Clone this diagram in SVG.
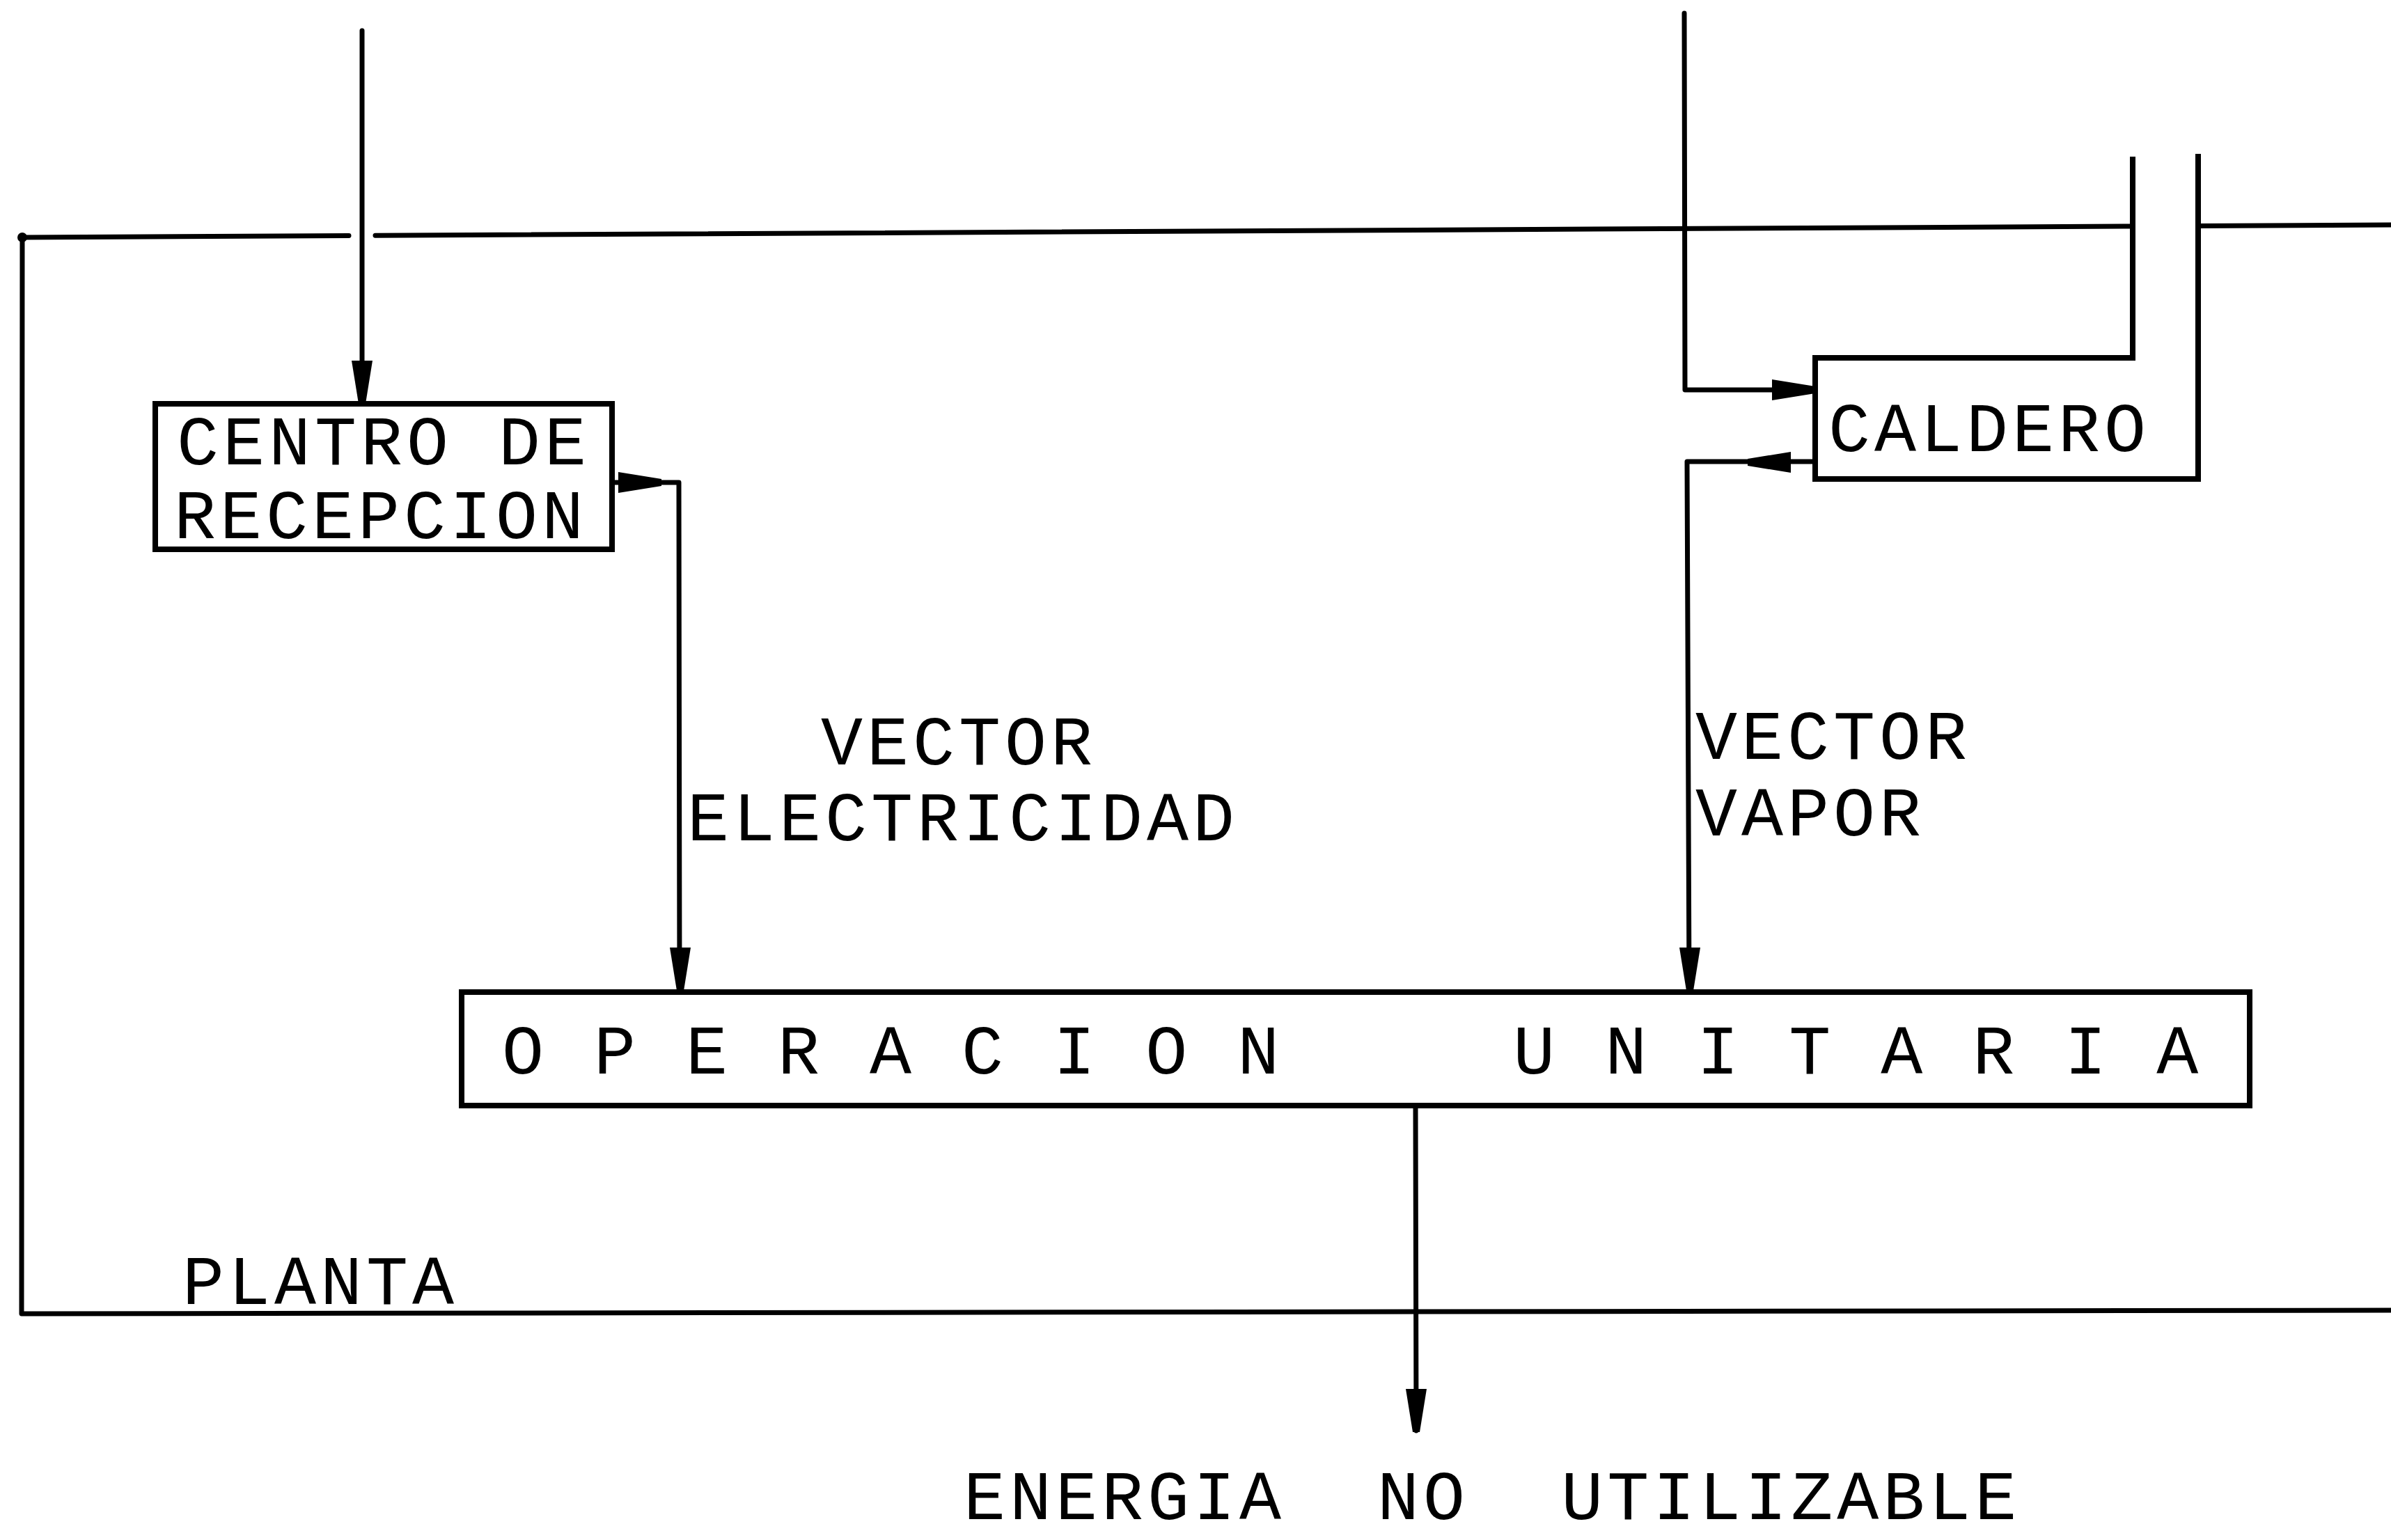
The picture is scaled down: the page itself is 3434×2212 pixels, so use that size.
<svg xmlns="http://www.w3.org/2000/svg" xmlns:xlink="http://www.w3.org/1999/xlink" width="3434" height="2212" viewBox="0 0 3434 2212">
<style>
  .ln { fill: none; stroke: #000; stroke-width: 7; stroke-linecap: round; stroke-linejoin: round; }
  .bx { fill: #fff; stroke: #000; stroke-width: 8; stroke-linejoin: miter; }
  .tx { font-family: "Liberation Mono", "DejaVu Sans Mono", monospace; font-size: 100px; letter-spacing: 6px; fill: #000; }
  .ah { fill: #000; }
</style>
<defs>
  <path id="ahd" class="ah" d="M-15,-62 L15,-62 L5,0 L-5,0 Z"/>
</defs>
<rect width="3434" height="2212" fill="#fff"/>

<g id="planta">
  <path class="ln" d="M32,341 L501,338.5"/>
  <path class="ln" d="M539,338.3 L3063,325"/>
  <path class="ln" d="M3157,324.5 L3434,323"/>
  <path class="ln" d="M32,341 L31,1887 L3434,1882"/>
  <circle cx="32" cy="341" r="7" fill="#000"/>
  <text class="tx" x="262" y="1873">PLANTA</text>
</g>

<g id="connectors">
  <path class="ln" d="M520,44 L520,578"/>
  <use xlink:href="#ahd" transform="translate(520,580)"/>
  <path class="ln" d="M879,693 L975,693 L976,1423"/>
  <use xlink:href="#ahd" transform="translate(950,693) rotate(-90)"/>
  <use xlink:href="#ahd" transform="translate(977,1423)"/>
  <path class="ln" d="M2419,19 L2420,560 L2607,560"/>
  <use xlink:href="#ahd" transform="translate(2607,560) rotate(-90)"/>
  <path class="ln" d="M2607,663 L2423,663 L2426,1421"/>
  <use xlink:href="#ahd" transform="translate(2510,664) rotate(90)"/>
  <use xlink:href="#ahd" transform="translate(2427,1423)"/>
  <path class="ln" d="M2033,1590 L2034,2055"/>
  <use xlink:href="#ahd" transform="translate(2034,2057)"/>
</g>

<g id="centro-recepcion">
  <rect class="bx" x="223" y="580" width="656" height="209"/>
  <text class="tx" x="254" y="667">CENTRO DE</text>
  <text class="tx" x="250" y="773">RECEPCION</text>
</g>

<g id="caldero">
  <path class="bx" d="M3063,225 L3063,514 L2607,514 L2607,688 L3157,688 L3157,221" fill="none"/>
  <text class="tx" x="2626" y="648">CALDERO</text>
</g>

<g id="operacion-unitaria">
  <rect class="bx" x="663" y="1425" width="2568" height="163"/>
  <text class="tx" x="721" y="1542" xml:space="preserve">O P E R A C I O N     U N I T A R I A</text>
</g>

<g id="labels">
  <text class="tx" x="1179" y="1098">VECTOR</text>
  <text class="tx" x="987" y="1207">ELECTRICIDAD</text>
  <text class="tx" x="2435" y="1090">VECTOR</text>
  <text class="tx" x="2435" y="1200">VAPOR</text>
  <text class="tx" x="1384" y="2182" xml:space="preserve">ENERGIA  NO  UTILIZABLE</text>
</g>
</svg>
